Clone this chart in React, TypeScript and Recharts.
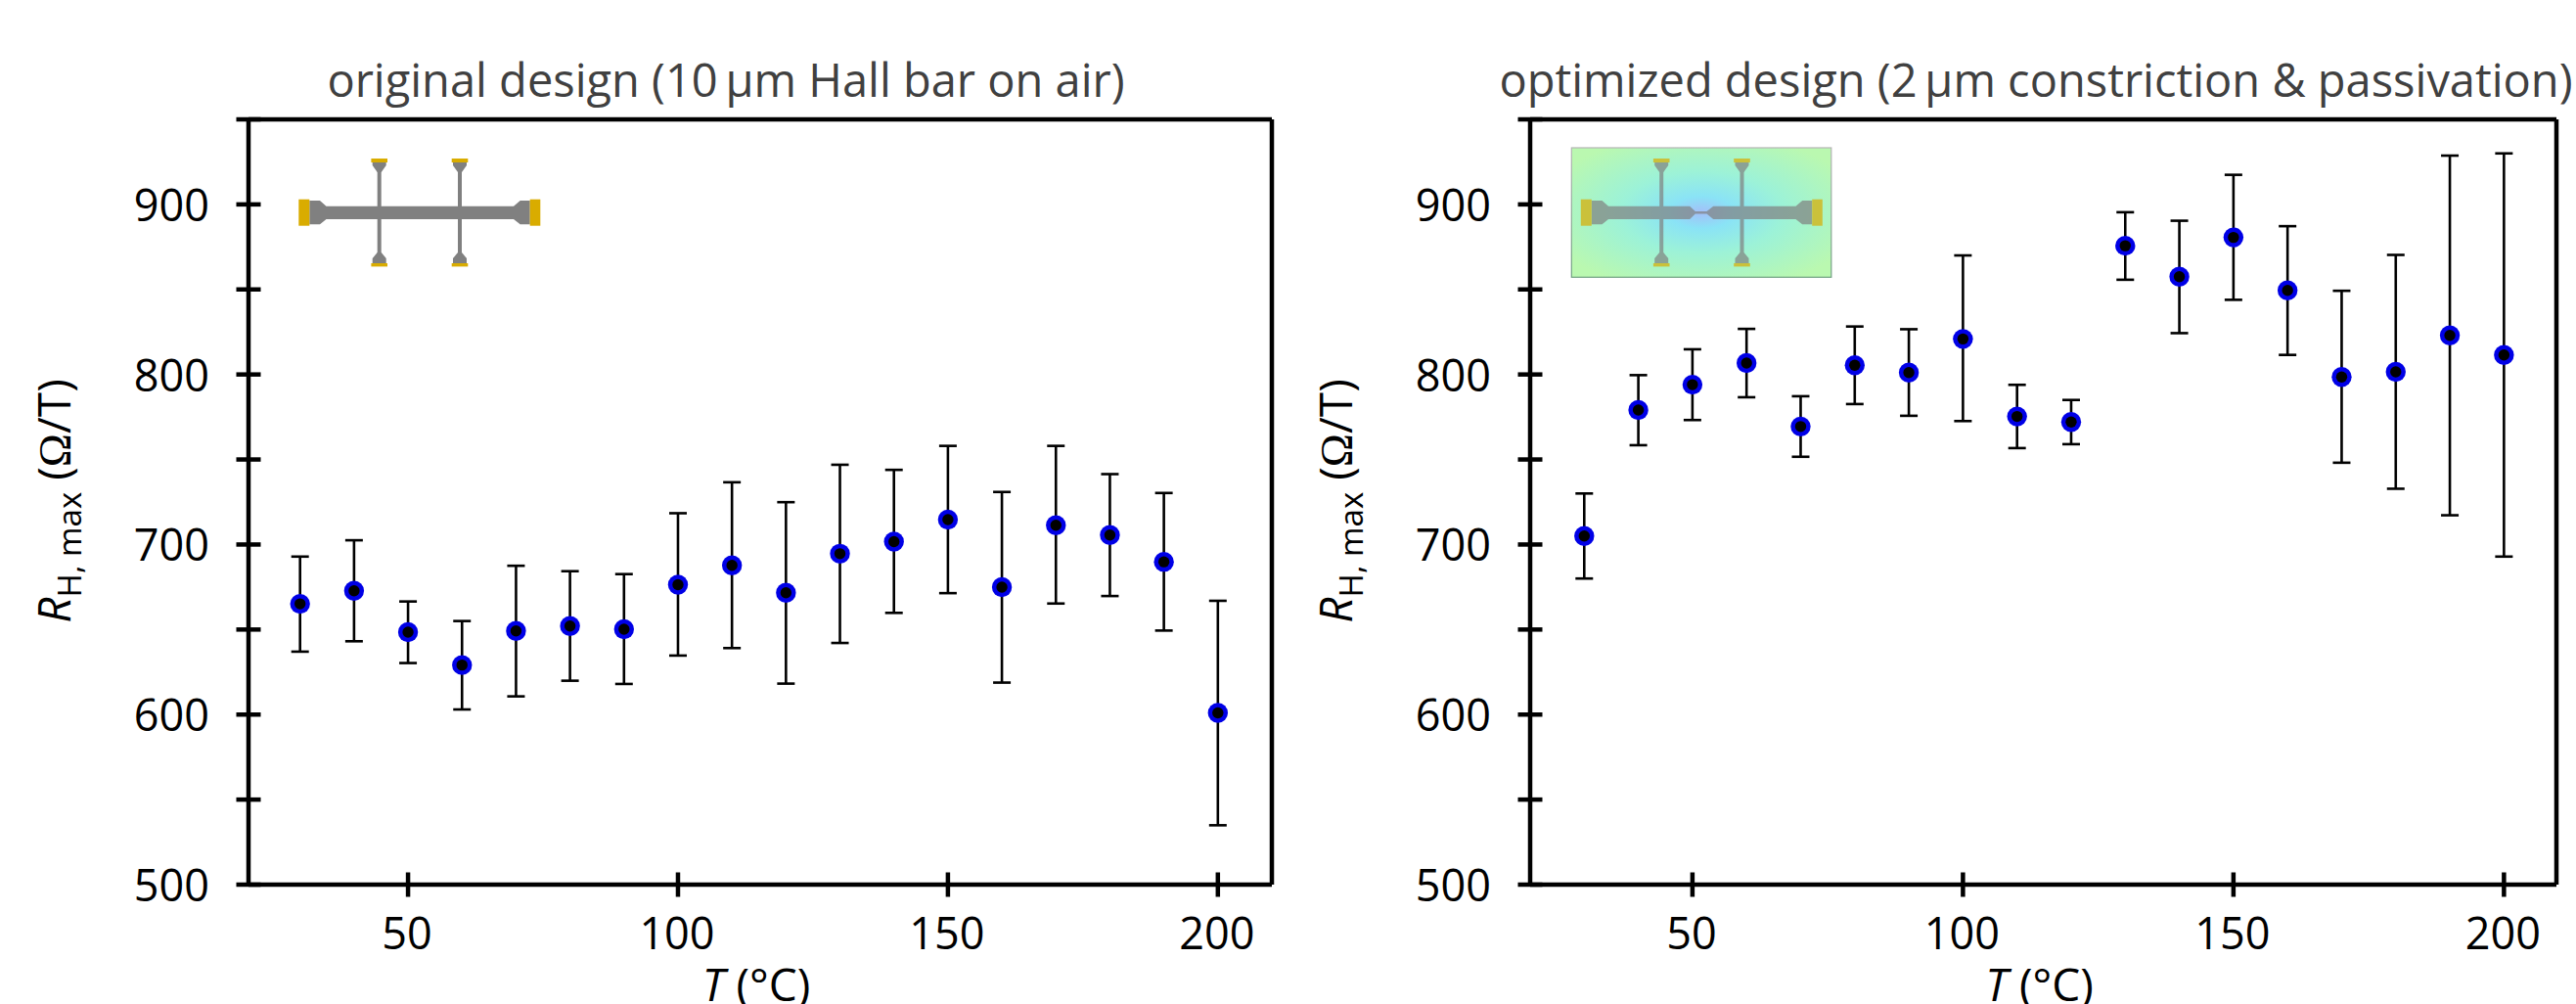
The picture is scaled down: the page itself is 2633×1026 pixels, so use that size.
import React from 'react';
import {
  ScatterChart,
  Scatter,
  XAxis,
  YAxis,
  ErrorBar,
  ReferenceLine
} from 'recharts';

const temperatures = [30, 40, 50, 60, 70, 80, 90, 100, 110, 120, 130, 140, 150, 160, 170, 180, 190, 200];

const originalMean = [665.1, 672.8, 648.5, 629.1, 649.2, 652.1, 650.2, 676.4, 687.7, 671.6, 694.6, 701.7, 714.6, 674.9, 711.3, 705.6, 689.8, 601];
const originalUpper = [692.9, 702.5, 666.5, 655, 687.5, 684.3, 682.6, 718.4, 736.6, 724.9, 746.9, 743.9, 758, 730.9, 758, 741.4, 730.3, 666.9];
const originalLower = [637, 643.1, 630.3, 603, 610.7, 619.9, 618, 634.7, 639.1, 618.2, 642.1, 659.8, 671.4, 618.8, 665.3, 669.7, 649.4, 534.9];

const optimizedMean = [705, 779.1, 794, 806.7, 769.4, 805.4, 801.1, 820.9, 775.3, 772, 875.7, 857.5, 880.6, 849.4, 798.5, 801.5, 823, 811.5];
const optimizedUpper = [730, 799.6, 814.8, 826.8, 787.2, 828.2, 826.6, 870, 793.9, 785, 895.4, 890.4, 917.4, 887.2, 849.2, 870.3, 928.7, 930];
const optimizedLower = [680, 758.4, 773.2, 786.6, 751.6, 782.6, 775.7, 772.6, 756.7, 759, 855.7, 824.3, 843.9, 811.5, 748.1, 732.8, 717.2, 692.9];

const xTicks = [50, 100, 150, 200];
const yTicks = [500, 550, 600, 650, 700, 750, 800, 850, 900, 950];
const yLabelled = [500, 600, 700, 800, 900];

const originalTitle = 'original design (10\u2009µm Hall bar on air)';
const optimizedTitle = 'optimized design (2\u2009µm constriction & passivation)';

const FONT = '"Open Sans", sans-serif';
const TICK_SIZE = 45;
const AXIS_W = 4.5;

const XTick = (props: any) => {
  const { x, y, payload } = props;
  return (
    <g>
      <line x1={x} x2={x} y1={y - 12.5} y2={y + 12.5} stroke="#000" strokeWidth={AXIS_W} />
      <text x={x - 1} y={y + 66} textAnchor="middle" fontSize={TICK_SIZE} fontFamily={FONT} fill="#000">
        {payload.value}
      </text>
    </g>
  );
};

const YTick = (props: any) => {
  const { x, y, payload } = props;
  return (
    <g>
      <line x1={x - 12.5} x2={x + 12.5} y1={y} y2={y} stroke="#000" strokeWidth={AXIS_W} />
      {yLabelled.includes(payload.value) && (
        <text x={x - 40} y={y + 17} textAnchor="end" fontSize={TICK_SIZE} fontFamily={FONT} fill="#000">
          {payload.value}
        </text>
      )}
    </g>
  );
};

const BlueDot = (props: any) => <circle cx={props.cx} cy={props.cy} r={10.2} fill="#0000e6" />;
const BlackDot = (props: any) => <circle cx={props.cx} cy={props.cy} r={5.7} fill="#000" />;

// thin device schematic used as the inset, dx shifts it into the panel
const HallBar = ({ dx, constricted, opacity }: { dx: number; constricted: boolean; opacity: number }) => {
  const gold = '#d9ac00';
  const grey = '#808080';
  const probes = [387.7, 470];
  const upper = constricted
    ? '333.5,210.7 416.7,210.7 422.3,216 434,216 440.7,210.7 525,210.7'
    : '333.5,210.7 525,210.7';
  const lower = constricted
    ? '525,224 440.7,224 434,218.6 422.3,218.6 416.7,224 333.5,224'
    : '525,224 333.5,224';
  return (
    <g transform={`translate(${dx},0)`} opacity={opacity}>
      <polygon
        fill={grey}
        points={`316.3,205 327,205 ${upper} 531.7,205 541.7,205 541.7,229.3 531.7,229.3 ${lower} 327,229.3 316.3,229.3`}
      />
      <rect x={305.3} y={203.7} width={11} height={27} fill={gold} />
      <rect x={541.7} y={203.7} width={10.6} height={27} fill={gold} />
      {probes.map(px => (
        <g key={px}>
          <rect x={px - 2} y={175} width={4} height={36} fill={grey} />
          <rect x={px - 2} y={224} width={4} height={35} fill={grey} />
          <polygon fill={grey} points={`${px - 7},166 ${px + 7},166 ${px + 7},169 ${px + 2},176 ${px - 2},176 ${px - 7},169`} />
          <polygon fill={grey} points={`${px - 2},258 ${px + 2},258 ${px + 7},264 ${px + 7},269 ${px - 7},269 ${px - 7},264`} />
          <rect x={px - 8.3} y={162} width={16.6} height={4} fill={gold} />
          <rect x={px - 8.3} y={269} width={16.6} height={3.4} fill={gold} />
        </g>
      ))}
    </g>
  );
};

const Panel = ({ left, width, domain, title, titleX, mean, upper, lower }: any) => {
  const rows = temperatures.map((t, i) => ({
    t,
    value: mean[i],
    err: [mean[i] - lower[i], upper[i] - mean[i]]
  }));
  const plotCenter = 254 + (width - 20 - 254) / 2;
  return (
    <div style={{ position: 'absolute', left, top: 0 }}>
      <ScatterChart width={width} height={1026} margin={{ top: 122, right: 20, bottom: 0, left: 0 }}>
        <XAxis
          type="number"
          dataKey="t"
          domain={domain}
          ticks={xTicks}
          height={122}
          allowDataOverflow
          tickLine={false}
          tickSize={0}
          tickMargin={0}
          tick={<XTick />}
          axisLine={{ stroke: '#000', strokeWidth: AXIS_W }}
          interval={0}
        />
        <YAxis
          type="number"
          dataKey="value"
          domain={[500, 950]}
          ticks={yTicks}
          width={254}
          allowDataOverflow
          tickLine={false}
          tickSize={0}
          tickMargin={0}
          tick={<YTick />}
          axisLine={{ stroke: '#000', strokeWidth: AXIS_W }}
          interval={0}
        />
        <ReferenceLine y={950} stroke="#000" strokeWidth={AXIS_W} />
        <ReferenceLine x={domain[1]} stroke="#000" strokeWidth={AXIS_W} />
        <Scatter data={rows} shape={<BlueDot />} isAnimationActive={false} />
        <Scatter data={rows} shape={<BlackDot />} isAnimationActive={false}>
          <ErrorBar dataKey="err" direction="y" width={9} stroke="#000" strokeWidth={2.6} isAnimationActive={false} />
        </Scatter>
        <text x={titleX} y={99} textAnchor="middle" fontSize={47} fontFamily={FONT} fill="#404040">
          {title}
        </text>
        <text x={plotCenter - 4} y={1023} textAnchor="middle" fontSize={46} fontFamily={FONT} fill="#000">
          <tspan fontStyle="italic">T</tspan> (°C)
        </text>
        <text
          transform="translate(72,512) rotate(-90)"
          textAnchor="middle"
          fontSize={46}
          fontFamily={FONT}
          fill="#000"
        >
          <tspan fontStyle="italic">R</tspan>
          <tspan fontSize={33} dy={11}>H, max</tspan>
          <tspan dy={-11}> (</tspan>
          <tspan fontFamily="'Liberation Serif', serif">Ω</tspan>
          <tspan>/T)</tspan>
        </text>
      </ScatterChart>
    </div>
  );
};

export default function App() {
  return (
    <div style={{ position: 'absolute', left: 0, top: 0, width: 2633, height: 1026, overflow: 'hidden', background: '#fff' }}>
      <Panel
        left={0}
        width={1320}
        domain={[20.45, 210]}
        title={originalTitle}
        titleX={742}
        mean={originalMean}
        upper={originalUpper}
        lower={originalLower}
      />
      <Panel
        left={1310}
        width={1323}
        domain={[20, 209.7]}
        title={optimizedTitle}
        titleX={771}
        mean={optimizedMean}
        upper={optimizedUpper}
        lower={optimizedLower}
      />
      <svg width={2633} height={1026} style={{ position: 'absolute', left: 0, top: 0, pointerEvents: 'none' }}>
        <defs>
          <radialGradient id="fieldGlow" cx="0.5" cy="0.5" r="0.62">
            <stop offset="0" stopColor="#a4bff8" />
            <stop offset="0.2" stopColor="#8ae3f6" />
            <stop offset="0.5" stopColor="#9cf2d8" />
            <stop offset="1" stopColor="#baf8b0" />
          </radialGradient>
          <linearGradient id="insetEdge" x1="0" y1="0" x2="0" y2="1">
            <stop offset="0" stopColor="#b4b4b4" />
            <stop offset="1" stopColor="#6f9f80" />
          </linearGradient>
        </defs>
        <HallBar dx={0} constricted={false} opacity={1} />
        <rect x={1606.3} y={151} width={265.5} height={132.3} fill="url(#fieldGlow)" stroke="url(#insetEdge)" strokeWidth={1.2} />
        <HallBar dx={1310.5} constricted opacity={0.7} />
      </svg>
    </div>
  );
}
